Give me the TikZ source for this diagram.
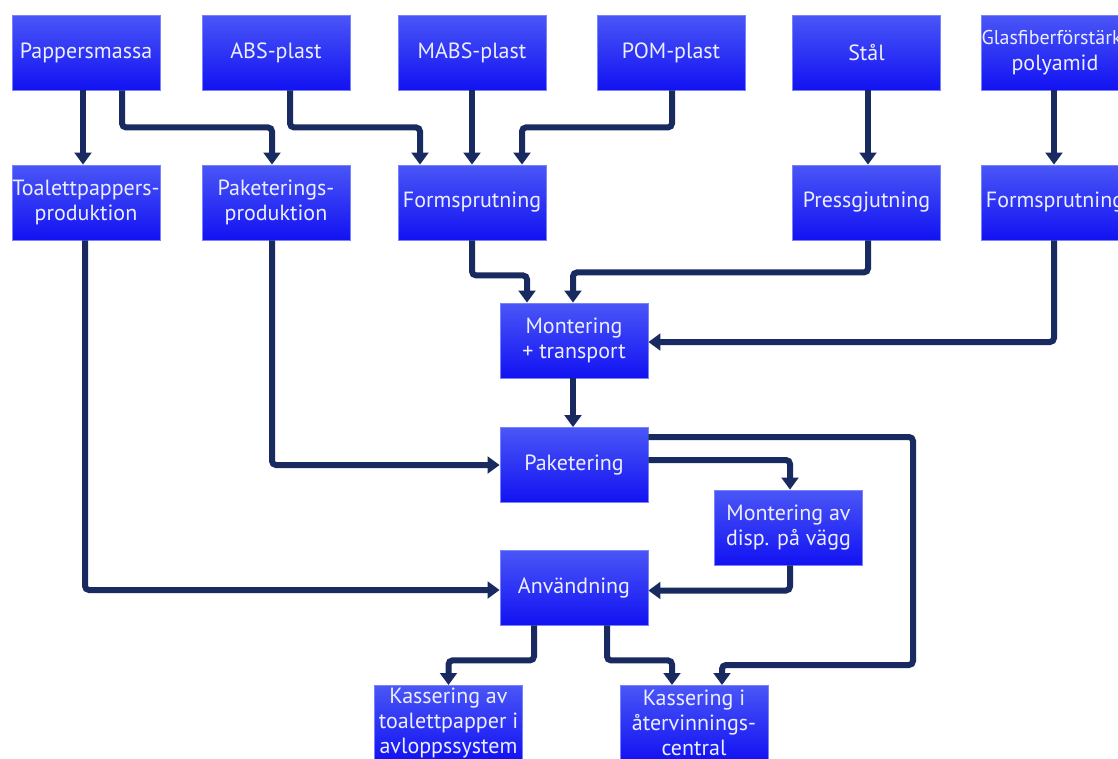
\documentclass[tikz,border=0pt]{standalone}
\usepackage{fontspec}
\setmainfont{PT Sans}
\usetikzlibrary{arrows.meta,calc}
\definecolor{boxtop}{RGB}{74,86,246}
\definecolor{boxbot}{RGB}{18,18,242}
\definecolor{boxedge}{RGB}{120,130,250}
\definecolor{boxtext}{RGB}{236,238,255}
\definecolor{linkcol}{RGB}{24,42,96}
\tikzset{
  flowbox/.style={shading=axis,top color=boxtop,bottom color=boxbot,
    draw=boxedge,line width=0.6pt,
    minimum width=111pt,minimum height=56.25pt,inner xsep=0pt,inner ysep=3pt,
    text=boxtext,align=center,font=\fontsize{16.5pt}{19pt}\selectfont},
  conn/.style={draw=linkcol,line width=4.5pt,rounded corners=3pt,
    -{Triangle[width=12.5pt,length=9pt]}},
}
\begin{document}
\begin{tikzpicture}[x=0.75pt,y=-0.75pt]
\useasboundingbox (0,0) rectangle (1118,758);
\clip (0,0) rectangle (1118,758);
% raw materials
\node[flowbox] (pap)  at (86,52.5)    {Pappersmassa};
\node[flowbox] (abs)  at (276,52.5)   {ABS-plast};
\node[flowbox] (mabs) at (472,52.5)   {MABS-plast};
\node[flowbox] (pom)  at (671,52.5)   {POM-plast};
\node[flowbox] (stal) at (866.5,52.5) {Stål};
\node[flowbox] (glas) at (1055,52.5)  {{\fontsize{15pt}{19pt}\selectfont Glasfiberförstärkt}\\polyamid};
% processing
\node[flowbox] (toa)   at (86,202.5)    {Toalettpappers-\\produktion};
\node[flowbox] (pakp)  at (276,202.5)   {Paketerings-\\produktion};
\node[flowbox] (form)  at (472,202.5)   {Formsprutning};
\node[flowbox] (press) at (866.5,202.5) {Pressgjutning};
\node[flowbox] (form2) at (1055,202.5)  {Formsprutning};
% assembly and use
\node[flowbox] (mont) at (574,340.5)   {Montering\\+ transport};
\node[flowbox] (pak)  at (574,465)     {Paketering};
\node[flowbox] (disp) at (788.5,527.5) {Montering av\\disp. på vägg};
\node[flowbox] (anv)  at (574,587.5)   {Användning};
% disposal
\node[flowbox,anchor=north,inner ysep=1pt] (kav) at (448.5,685) {Kassering av\\toalettpapper i\\avloppssystem};
\node[flowbox,anchor=north,inner ysep=1pt] (kiv) at (694,685)   {Kassering i\\återvinnings-\\central};
\coordinate (loop) at (913,665);

% material flows
\draw[conn] ($(pap.south)+(-3,0)$) -- ($(toa.north)+(-3,0)$);
\draw[conn] ($(pap.south)+(36,0)$) -- ++(0,37) -| ($(pakp.north)+(-4,0)$);
\draw[conn] ($(abs.south)+(14,0)$) -- ++(0,37) -| ($(form.north)+(-52,0)$);
\draw[conn] (mabs.south) -- (form.north);
\draw[conn] ($(pom.south)+(1,0)$) -- ++(0,37) -| ($(form.north)+(50,0)$);
\draw[conn] ($(stal.south)+(1.5,0)$) -- ($(press.north)+(1.5,0)$);
\draw[conn] ($(glas.south)+(-1,0)$) -- ($(form2.north)+(-1,0)$);
% towards assembly
\draw[conn] (form.south) -- ++(0,35) -| ($(mont.north)+(-47,0)$);
\draw[conn] ($(press.south)+(1.5,0)$) -- ++(0,32) -| ($(mont.north)+(-1,0)$);
\draw[conn] ($(form2.south)+(-1,0)$) |- ($(mont.east)+(0,1.5)$);
\draw[conn] ($(toa.south)+(-1,0)$) |- ($(anv.west)+(0,2.5)$);
\draw[conn] ($(pakp.south)+(-4,0)$) |- (pak.west);
\draw[conn] ($(mont.south)+(-1,0)$) -- ($(pak.north)+(-1,0)$);
% packaging, mounting, use, disposal
\draw[conn] ($(pak.east)+(0,-28)$) -| (loop) -| ($(kiv.north)+(28,0)$);
\draw[conn] ($(pak.east)+(0,-5)$) -| ($(disp.north)+(1.5,0)$);
\draw[conn] ($(disp.south)+(1.5,0)$) |- ($(anv.east)+(0,3)$);
\draw[conn] ($(anv.south)+(-40,0)$) -- ++(0,35) -| (kav.north);
\draw[conn] ($(anv.south)+(33,0)$) -- ++(0,35) -| ($(kiv.north)+(-22,0)$);
\end{tikzpicture}
\end{document}
